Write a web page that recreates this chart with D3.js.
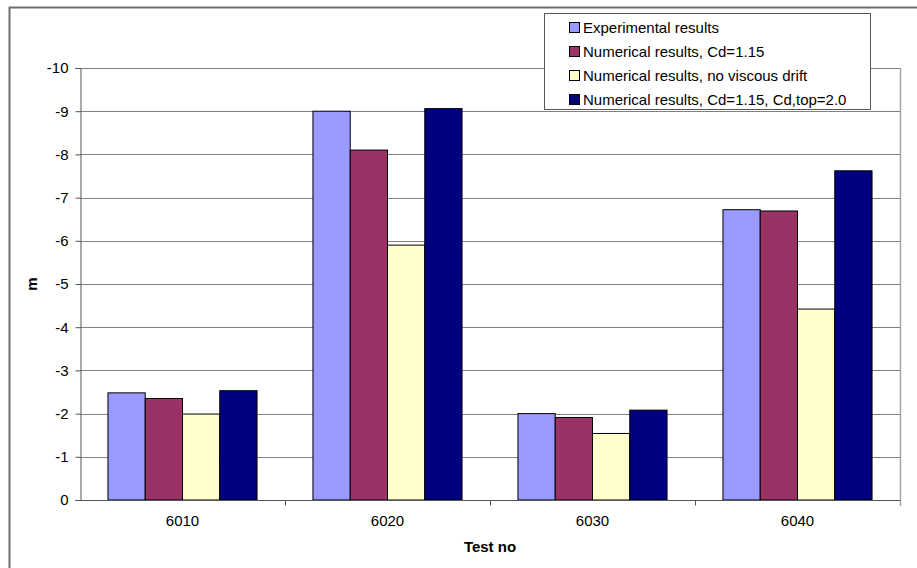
<!DOCTYPE html>
<html>
<head>
<meta charset="utf-8">
<script src="https://cdn.jsdelivr.net/npm/d3@7"></script>
<style>
  html, body { margin: 0; padding: 0; background: #fff; }
  svg { display: block; font-family: "Liberation Sans", Arial, sans-serif; }
</style>
</head>
<body>
<svg id="chart" width="917" height="568"></svg>
<script>
// Test numbers along the x axis
const tests = ["6010", "6020", "6030", "6040"];

// Series (metres, negative downwards)
const seriesNames = [
  "Experimental results",
  "Numerical results, Cd=1.15",
  "Numerical results, no viscous drift",
  "Numerical results, Cd=1.15, Cd,top=2.0"
];
const experimental = [-2.48, -9.00, -2.00, -6.72];
const numericalCd = [-2.35, -8.10, -1.91, -6.69];
const noViscous = [-1.99, -5.90, -1.54, -4.42];
const numericalCdTop = [-2.53, -9.06, -2.08, -7.62];
const seriesColors = ["#9999FF", "#993366", "#FFFFCC", "#000080"];

// Y tick values
const yTicks = [0, -1, -2, -3, -4, -5, -6, -7, -8, -9, -10];

const seriesValues = [experimental, numericalCd, noViscous, numericalCdTop];

const svg = d3.select("#chart");

// Outer chart frame
svg.append("rect")
  .attr("x", 9.5).attr("y", 7.5)
  .attr("width", 930).attr("height", 600)
  .attr("fill", "#fff")
  .attr("stroke", "#6e6e6e").attr("stroke-width", 2);

const plot = { left: 80, right: 900, top: 68, bottom: 500 };

const x = d3.scaleBand()
  .domain(tests)
  .range([plot.left, plot.right]);

// Four bars per test with a 150% gap between groups
const inner = d3.scaleBand()
  .domain(d3.range(seriesNames.length))
  .range([0, x.bandwidth()])
  .paddingOuter(0.75)
  .paddingInner(0);

const y = d3.scaleLinear()
  .domain([0, -10])
  .range([plot.bottom, plot.top]);

// Horizontal gridlines
svg.append("g")
  .selectAll("line")
  .data(yTicks.filter(d => d !== 0))
  .join("line")
  .attr("x1", plot.left).attr("x2", plot.right)
  .attr("y1", d => Math.round(y(d)) + 0.5)
  .attr("y2", d => Math.round(y(d)) + 0.5)
  .attr("stroke", "#808080").attr("stroke-width", 1);

// Right edge of plot area
svg.append("line")
  .attr("x1", plot.right + 0.5).attr("x2", plot.right + 0.5)
  .attr("y1", plot.top).attr("y2", plot.bottom + 6)
  .attr("stroke", "#a6a6a6").attr("stroke-width", 1.5);

// Bars
const groups = svg.append("g")
  .selectAll("g")
  .data(seriesValues)
  .join("g")
  .attr("fill", (d, i) => seriesColors[i]);

groups.selectAll("rect")
  .data((vals, si) => vals.map((v, ci) => ({ v, ci, si })))
  .join("rect")
  .attr("x", d => x(tests[d.ci]) + inner(d.si))
  .attr("width", inner.bandwidth())
  .attr("y", d => y(d.v))
  .attr("height", d => y(0) - y(d.v))
  .attr("stroke", "#000").attr("stroke-width", 1);

// Y axis (plain hyphen minus signs)
const yAxis = d3.axisLeft(y)
  .tickValues(yTicks)
  .tickFormat(d => String(d))
  .tickSize(5)
  .tickPadding(7);

const yg = svg.append("g")
  .attr("transform", `translate(${plot.left + 0.5},0)`)
  .call(yAxis);
yg.select(".domain").attr("stroke", "#555");
yg.selectAll(".tick line").attr("stroke", "#555");
yg.selectAll(".tick text")
  .attr("font-size", 15)
  .attr("font-family", "Liberation Sans, Arial, sans-serif")
  .attr("fill", "#000");

// X axis
const xAxis = d3.axisBottom(x)
  .tickSize(0)
  .tickPadding(15);

const xg = svg.append("g")
  .attr("transform", `translate(0,${plot.bottom + 0.5})`)
  .call(xAxis);
xg.select(".domain").attr("stroke", "#555").attr("d", `M${plot.left},0H${plot.right}`);
xg.selectAll(".tick text")
  .attr("font-size", 15)
  .attr("font-family", "Liberation Sans, Arial, sans-serif")
  .attr("fill", "#000");

// Category separator ticks
xg.append("g")
  .selectAll("line")
  .data(tests.slice(1))
  .join("line")
  .attr("x1", d => Math.round(x(d)) + 0.5)
  .attr("x2", d => Math.round(x(d)) + 0.5)
  .attr("y1", 0).attr("y2", 5)
  .attr("stroke", "#555");

// Axis titles
svg.append("text")
  .attr("transform", "translate(37,284) rotate(-90)")
  .attr("text-anchor", "middle")
  .attr("font-size", 15)
  .attr("font-weight", "bold")
  .text("m");

svg.append("text")
  .attr("x", 490).attr("y", 552)
  .attr("text-anchor", "middle")
  .attr("font-size", 15)
  .attr("font-weight", "bold")
  .text("Test no");

// Legend
const legend = svg.append("g");
legend.append("rect")
  .attr("x", 544.5).attr("y", 13.5)
  .attr("width", 326).attr("height", 96)
  .attr("fill", "#fff")
  .attr("stroke", "#555").attr("stroke-width", 1);

const items = legend.selectAll("g.item")
  .data(seriesNames)
  .join("g")
  .attr("class", "item")
  .attr("transform", (d, i) => `translate(0,${27 + i * 24})`);

items.append("rect")
  .attr("x", 569.5).attr("y", -4.5)
  .attr("width", 10).attr("height", 10)
  .attr("fill", (d, i) => seriesColors[i])
  .attr("stroke", "#000").attr("stroke-width", 1);

items.append("text")
  .attr("x", 583).attr("y", 5.5)
  .attr("font-size", 15)
  .text(d => d);
</script>
</body>
</html>
